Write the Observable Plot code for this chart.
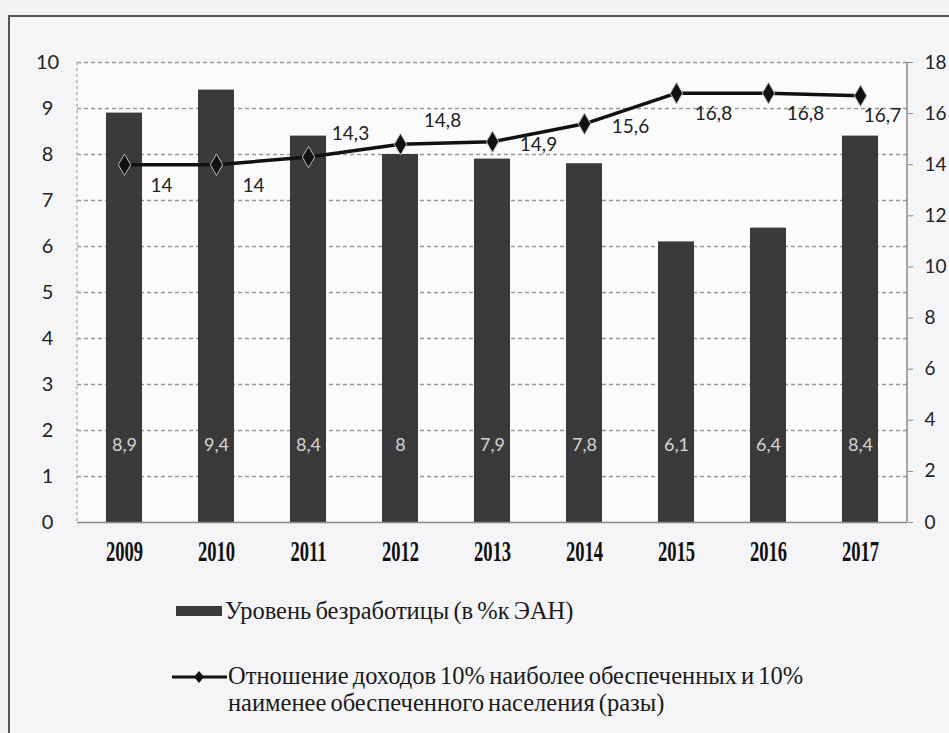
<!DOCTYPE html>
<html><head><meta charset="utf-8">
<script src="https://cdn.jsdelivr.net/npm/d3@7"></script>
<script src="https://cdn.jsdelivr.net/npm/@observablehq/plot@0.6"></script>
<style>
html,body{margin:0;padding:0;background:#f2f2f4;width:949px;height:733px;overflow:hidden;}
#frame{position:absolute;left:8px;top:15px;width:960px;height:740px;border-left:2px solid #555;border-top:2px solid #555;background:#f5f5f7;}
#chart{position:absolute;left:0;top:0;}
.leg{position:absolute;font-family:"Liberation Serif","Times New Roman",serif;font-size:24.5px;color:#1a1a1a;word-spacing:-2px;white-space:nowrap;}
</style></head><body>
<div id="frame"></div>
<div id="chart"></div>
<div id="sw1" style="position:absolute;left:176px;top:606px;width:46px;height:10px;background:#3a3a3c;"></div>
<div class="leg" style="left:225px;top:597px;line-height:28px;">Уровень безработицы (в %к ЭАН)</div>
<svg style="position:absolute;left:170px;top:669px;" width="60" height="16">
  <line x1="2" y1="8" x2="57" y2="8" stroke="#111" stroke-width="3"/>
  <path d="M29,2 L34,8 L29,14 L24,8 Z" fill="#111"/>
</svg>
<div class="leg" style="left:228px;top:662px;line-height:27px;">Отношение доходов 10% наиболее обеспеченных и 10%<br>наименее обеспеченного населения (разы)</div>
<script>
const years = ["2009","2010","2011","2012","2013","2014","2015","2016","2017"];
const unemployment = [8.9, 9.4, 8.4, 8, 7.9, 7.8, 6.1, 6.4, 8.4];
const incomeRatio = [14, 14, 14.3, 14.8, 14.9, 15.6, 16.8, 16.8, 16.7];
const leftTicks = [0,1,2,3,4,5,6,7,8,9,10];
const rightTicks = [0,2,4,6,8,10,12,14,16,18];

const k = 10 / 18; // right axis (0–18) mapped onto left axis (0–10)
const data = years.map((year, i) => ({year, u: unemployment[i], r: incomeRatio[i]}));
const fmt = v => String(v).replace(".", ",");
const labelFont = {fontFamily: "Lato, 'Open Sans', sans-serif", fontSize: 19, fill: "#222"};

const axisLines = (index, scales, values, dims) => {
  const D = dims || {marginLeft: 77, marginRight: 42, marginTop: 62, marginBottom: 58, width: 949, height: 580};
  const g = d3.create("svg:g");
  const x0 = D.marginLeft, x1 = D.width - D.marginRight;
  const y0 = D.marginTop, y1 = D.height - D.marginBottom;
  g.append("line").attr("x1", x0).attr("x2", x0).attr("y1", y0).attr("y2", y1)
    .attr("stroke", "#aaa").attr("stroke-width", 1.3).attr("stroke-dasharray", "3,3");
  g.append("line").attr("x1", x1).attr("x2", x1).attr("y1", y0).attr("y2", y1)
    .attr("stroke", "#888").attr("stroke-width", 1.5);
  return g.node();
};

const chart = Plot.plot({
  width: 949, height: 580,
  marginLeft: 77, marginRight: 42, marginTop: 62, marginBottom: 58,
  style: {background: "transparent", fontFamily: "Lato, sans-serif", color: "#222"},
  x: {domain: years, paddingInner: 0.61, paddingOuter: 0.305, label: null},
  y: {domain: [0, 10], label: null},
  marks: [
    Plot.frame({fill: "#fbfbfc", stroke: "none"}),
    Plot.ruleY(leftTicks.filter(v => v > 0), {stroke: "#999", strokeWidth: 1.3, strokeDasharray: "4,3"}),
    axisLines,
    Plot.barY(data, {x: "year", y: "u", fill: "#3a3a3c"}),
    Plot.ruleY([0], {stroke: "#888", strokeWidth: 1.6}),
    Plot.text(data, {x: "year", text: d => fmt(d.u), frameAnchor: "bottom", dy: -72,
      fontFamily: "Lato, sans-serif", fontSize: 18, fill: "#d4d4d4"}),
    Plot.line(data, {x: "year", y: d => d.r * k, stroke: "#111", strokeWidth: 3.5}),
    Plot.dot(data, {x: "year", y: d => d.r * k, symbol: "diamond", r: 6.5, fill: "#111", stroke: "#bbb", strokeWidth: 1}),
    Plot.text(data, {filter: d => ["2009","2010","2015","2016"].includes(d.year),
      x: "year", y: d => d.r * k, text: d => fmt(d.r), dx: 37, dy: 21, ...labelFont}),
    Plot.text(data, {filter: d => d.year === "2017",
      x: "year", y: d => d.r * k, text: d => fmt(d.r), dx: 22, dy: 20, ...labelFont}),
    Plot.text(data, {filter: d => ["2011","2012"].includes(d.year),
      x: "year", y: d => d.r * k, text: d => fmt(d.r), dx: 42, dy: -23, ...labelFont}),
    Plot.text(data, {filter: d => ["2013","2014"].includes(d.year),
      x: "year", y: d => d.r * k, text: d => fmt(d.r), dx: 46, dy: 3, ...labelFont}),
    Plot.axisY(leftTicks, {anchor: "left", label: null, tickSize: 0, tickPadding: 30, textAnchor: "middle",
      fontSize: 20, fontFamily: "Lato, sans-serif", fill: "#222"}),
    Plot.axisY(rightTicks.map(v => v * k), {anchor: "right", label: null, tickFormat: d => Math.round(d / k),
      tickSize: 5, tickPadding: 12, stroke: "#888", fontSize: 19, fontFamily: "Lato, sans-serif", fill: "#222"}),
    Plot.axisX({label: null, tickSize: 0, tickPadding: 38, fontSize: 30, fontWeight: "bold",
      fontFamily: "'Liberation Serif', 'Times New Roman', serif", fill: "#111"})
  ]
});
document.getElementById("chart").appendChild(chart);

// condense the serif year labels horizontally, as in the original
chart.querySelectorAll('g[aria-label="x-axis tick label"] text').forEach(t => {
  const x = +t.getAttribute("x") || 0, y = +t.getAttribute("y") || 0;
  const tr = t.getAttribute("transform") || "";
  t.removeAttribute("x"); t.removeAttribute("y");
  t.setAttribute("transform", `${tr} translate(${x},${y}) scale(0.62,1)`);
});
</script>
</body></html>
